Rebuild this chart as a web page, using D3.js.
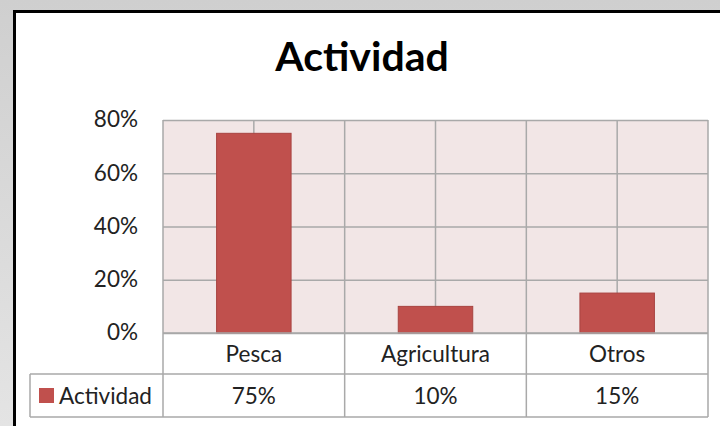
<html>
  <head>
    <title>Actividad</title>
  <style type="text/css">
    body{
      margin: 0;
      font-family: Lato, "Open Sans", sans-serif;
    }
  </style>
  </head>
  <body>
    <script src="https://d3js.org/d3.v7.min.js"></script>
    <div id="graph_item"></div>
    <script>

// data
var categories = ["Pesca", "Agricultura", "Otros"];
var values = [0.75, 0.10, 0.15];
var valueLabels = ["75%", "10%", "15%"];
var yTicks = [0, 0.2, 0.4, 0.6, 0.8];
var seriesName = "Actividad";

var W = 720, H = 426;
var plot = {left: 163, right: 708, top: 120, bottom: 333};
var row1 = 374, row2 = 417, legendLeft = 30;
var grid = "#a9a9a9";
var fs = "22.5px";

var svg = d3.select("#graph_item")
  .append("svg")
    .attr("width", W)
    .attr("height", H);

// grey surround + black frame
var grad = svg.append("defs").append("linearGradient")
    .attr("id", "bg").attr("x1", 0).attr("x2", 0).attr("y1", 0).attr("y2", 1);
grad.append("stop").attr("offset", 0).attr("stop-color", "#cfcfcf");
grad.append("stop").attr("offset", 1).attr("stop-color", "#e4e4e4");
svg.append("rect").attr("width", W).attr("height", H).attr("fill", "url(#bg)");
svg.append("rect").attr("x", 15).attr("y", 12).attr("width", W - 15).attr("height", H - 12)
    .attr("fill", "white");
svg.append("path").attr("d", "M14.5," + H + "V11.5H" + W)
    .attr("fill", "none").attr("stroke", "#000").attr("stroke-width", 3);

// title
svg.append("text")
    .attr("x", 362).attr("y", 71)
    .attr("text-anchor", "middle")
    .style("font-size", "41px")
    .style("font-weight", 700)
    .style("fill", "#000")
    .text("Actividad");

var x = d3.scaleBand()
    .domain(categories)
    .range([plot.left, plot.right])
    .paddingInner(0).paddingOuter(0);

var y = d3.scaleLinear()
    .domain([0, 0.8])
    .range([plot.bottom, plot.top]);

// plot area fill
svg.append("rect")
    .attr("x", plot.left).attr("y", plot.top)
    .attr("width", plot.right - plot.left).attr("height", plot.bottom - plot.top)
    .attr("fill", "#f2e6e6");

// horizontal gridlines + labels
var yAxis = svg.append("g")
    .attr("transform", "translate(" + plot.left + ",0)")
    .call(d3.axisLeft(y).tickValues(yTicks).tickFormat(d3.format(".0%"))
      .tickSize(-(plot.right - plot.left)).tickPadding(25))
    .call(g => g.select(".domain").remove());
yAxis.selectAll(".tick line").attr("stroke", grid).attr("stroke-width", 1.5);
yAxis.selectAll(".tick text")
    .style("font-size", fs).style("font-family", "Lato, sans-serif")
    .attr("fill", "#222").attr("dy", "0.3em");

// vertical gridlines at category edges and centres
var vlines = [];
categories.forEach(function(c){
  vlines.push({x: x(c), full: true});
  vlines.push({x: x(c) + x.bandwidth() / 2, full: false});
});
vlines.push({x: x.range()[1], full: true});
svg.append("g").selectAll("line")
  .data(vlines)
  .join("line")
    .attr("x1", d => d.x).attr("x2", d => d.x)
    .attr("y1", plot.top)
    .attr("y2", d => d.full ? row2 : plot.bottom)
    .attr("stroke", grid).attr("stroke-width", 1.5);

// bars
var barW = x.bandwidth() * 0.41;
svg.append("g").selectAll("rect")
  .data(values)
  .join("rect")
    .attr("x", (d, i) => x(categories[i]) + (x.bandwidth() - barW) / 2)
    .attr("y", d => y(d))
    .attr("width", barW)
    .attr("height", d => y(0) - y(d))
    .attr("fill", "#c0504d")
    .attr("stroke", "#a84340").attr("stroke-width", 1);

// data table lines
svg.append("g").selectAll("line")
  .data([
    [plot.left, plot.bottom, plot.right, plot.bottom],
    [legendLeft, row1, plot.right, row1],
    [legendLeft, row2, plot.right, row2],
    [legendLeft, row1, legendLeft, row2]
  ])
  .join("line")
    .attr("x1", d => d[0]).attr("y1", d => d[1])
    .attr("x2", d => d[2]).attr("y2", d => d[3])
    .attr("stroke", grid).attr("stroke-width", 1.5);

// category labels
svg.append("g").selectAll("text")
  .data(categories)
  .join("text")
    .attr("x", d => x(d) + x.bandwidth() / 2)
    .attr("y", (plot.bottom + row1) / 2 + 8)
    .attr("text-anchor", "middle")
    .style("font-size", fs)
    .attr("fill", "#222")
    .text(d => d);

// value row
svg.append("g").selectAll("text")
  .data(valueLabels)
  .join("text")
    .attr("x", (d, i) => x(categories[i]) + x.bandwidth() / 2)
    .attr("y", (row1 + row2) / 2 + 8)
    .attr("text-anchor", "middle")
    .style("font-size", fs)
    .attr("fill", "#222")
    .text(d => d);

// legend key
svg.append("rect")
    .attr("x", 39).attr("y", 388)
    .attr("width", 15).attr("height", 15)
    .attr("fill", "#c0504d");
svg.append("text")
    .attr("x", 59).attr("y", (row1 + row2) / 2 + 8)
    .style("font-size", fs)
    .attr("fill", "#222")
    .text(seriesName);

</script>
  </body>
</html>
